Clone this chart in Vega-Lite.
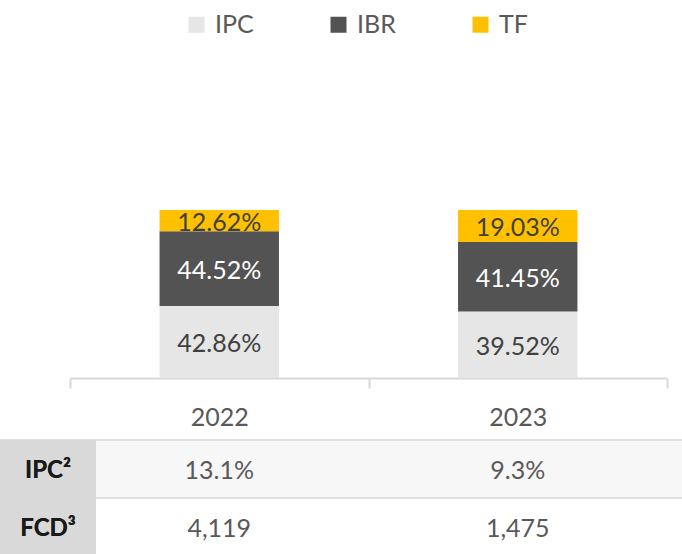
{
  "$schema": "https://vega.github.io/schema/vega-lite/v6.json",
  "autosize": "none",
  "padding": 0,
  "width": 682,
  "height": 554,
  "background": "#ffffff",
  "config": {"view": {"stroke": null}, "font": "Lato"},
  "datasets": {
    "bars": [
      {"year": "2022", "cat": "IPC", "value": 0.4286},
      {"year": "2022", "cat": "IBR", "value": 0.4452},
      {"year": "2022", "cat": "TF", "value": 0.1262},
      {"year": "2023", "cat": "IPC", "value": 0.3952},
      {"year": "2023", "cat": "IBR", "value": 0.4145},
      {"year": "2023", "cat": "TF", "value": 0.1903}
    ],
    "table": [
      {"metric": "IPC²", "year": "2022", "text": "13.1%"},
      {"metric": "IPC²", "year": "2023", "text": "9.3%"},
      {"metric": "FCD³", "year": "2022", "text": "4,119"},
      {"metric": "FCD³", "year": "2023", "text": "1,475"}
    ]
  },
  "layer": [
    {
      "data": {"name": "bars"},
      "transform": [
        {"calculate": "indexof(['IPC','IBR','TF'], datum.cat)", "as": "idx"},
        {"stack": "value", "groupby": ["year"], "sort": [{"field": "idx", "order": "ascending"}], "as": ["v0", "v1"]},
        {"calculate": "(datum.v0 + datum.v1) / 2", "as": "mid"}
      ],
      "encoding": {
        "x": {
          "field": "year", "type": "nominal",
          "scale": {"domain": ["2022", "2023"], "range": [70, 667], "paddingInner": 0, "paddingOuter": 0},
          "axis": {
            "title": null, "orient": "bottom", "offset": -176,
            "domainColor": "#d9d9d9", "domainWidth": 2,
            "tickColor": "#d9d9d9", "tickWidth": 2, "tickSize": 10, "tickBand": "extent",
            "labelFont": "Lato", "labelFontSize": 25, "labelColor": "#595959", "labelPadding": 17, "labelAngle": 0
          }
        }
      },
      "layer": [
        {
          "mark": {"type": "bar", "width": {"band": 0.4}},
          "encoding": {
            "y": {"field": "v0", "type": "quantitative", "scale": {"domain": [0, 1], "range": [378, 210], "nice": false, "zero": false}, "axis": null},
            "y2": {"field": "v1"},
            "color": {
              "field": "cat", "type": "nominal",
              "scale": {"domain": ["IPC", "IBR", "TF"], "range": ["#e6e6e6", "#535353", "#ffc000"]},
              "legend": {
                "title": null, "orient": "none", "legendX": 184, "legendY": 12,
                "direction": "horizontal", "columns": 3, "gridAlign": "all", "columnPadding": 72,
                "symbolType": "square", "symbolSize": 256, "symbolStrokeWidth": 0,
                "labelFont": "Lato", "labelFontSize": 25, "labelColor": "#595959", "labelOffset": 6, "padding": 0
              }
            }
          }
        },
        {
          "mark": {"type": "text", "baseline": "middle", "align": "center", "fontSize": 25, "font": "Lato", "dy": 2},
          "encoding": {
            "y": {"field": "mid", "type": "quantitative", "scale": {"domain": [0, 1], "range": [378, 210], "nice": false, "zero": false}, "axis": null},
            "text": {"field": "value", "type": "quantitative", "format": ".2%"},
            "color": {"condition": {"test": "datum.cat === 'IBR'", "value": "#ffffff"}, "value": "#404040"}
          }
        }
      ]
    },
    {
      "data": {"name": "table"},
      "encoding": {
        "y": {"field": "metric", "type": "nominal", "scale": {"domain": ["IPC²", "FCD³"], "range": [440, 556], "paddingInner": 0, "paddingOuter": 0}, "axis": null}
      },
      "layer": [
        {
          "mark": {"type": "rect"},
          "encoding": {
            "fill": {"condition": {"test": "datum.metric === 'IPC²'", "value": "#f7f7f7"}, "value": "#ffffff"}
          }
        },
        {
          "mark": {"type": "rule", "strokeWidth": 2, "color": "#e0e0e0"},
          "encoding": {
            "y": {"field": "metric", "type": "nominal", "bandPosition": 0}
          }
        },
        {
          "mark": {"type": "rect", "color": "#d9d9d9"},
          "encoding": {
            "x": {"datum": "h", "type": "nominal", "scale": {"domain": ["h"], "range": [0, 96], "paddingInner": 0, "paddingOuter": 0}, "axis": null}
          }
        },
        {
          "mark": {"type": "text", "fontWeight": "bold", "fontSize": 24, "font": "Lato", "color": "#1a1a1a", "baseline": "middle", "dy": 2},
          "encoding": {
            "x": {"datum": "h", "type": "nominal", "scale": {"domain": ["h"], "range": [0, 96], "paddingInner": 0, "paddingOuter": 0}, "axis": null},
            "text": {"field": "metric"}
          }
        },
        {
          "mark": {"type": "text", "fontSize": 25, "font": "Lato", "color": "#595959", "baseline": "middle", "dy": 2},
          "encoding": {
            "x": {"field": "year", "type": "nominal", "scale": {"domain": ["2022", "2023"], "range": [70, 667], "paddingInner": 0, "paddingOuter": 0}, "axis": null},
            "text": {"field": "text"}
          }
        }
      ],
      "resolve": {"scale": {"x": "independent"}}
    }
  ],
  "resolve": {"scale": {"x": "independent", "y": "independent"}}
}
